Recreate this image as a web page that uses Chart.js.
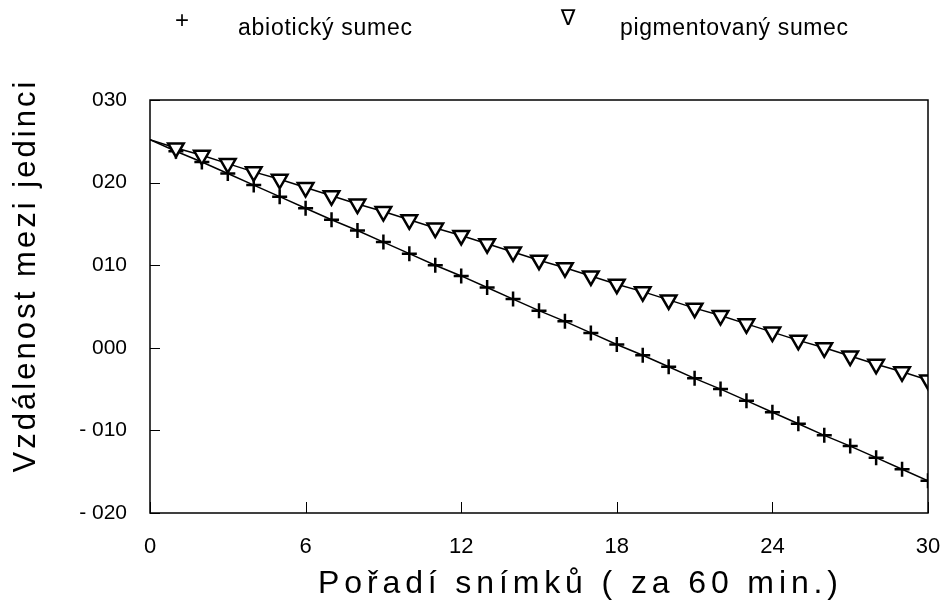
<!DOCTYPE html>
<html>
<head>
<meta charset="utf-8">
<script src="https://cdn.jsdelivr.net/npm/chart.js@4"></script>
<style>
  html, body { margin: 0; padding: 0; background: #fff; }
  #wrap { width: 943px; height: 610px; position: relative; }
</style>
</head>
<body>
<div id="wrap"><canvas id="chart"></canvas></div>
<script>
// snímek (frame index) 0..30
const frames = [0, 1, 2, 3, 4, 5, 6, 7, 8, 9, 10, 11, 12, 13, 14, 15, 16, 17, 18, 19, 20, 21, 22, 23, 24, 25, 26, 27, 28, 29, 30];

const abioticValues = [0.252, 0.238, 0.225, 0.211, 0.197, 0.183, 0.169, 0.155, 0.142, 0.128, 0.114,
  0.100, 0.087, 0.073, 0.059, 0.045, 0.032, 0.018, 0.004, -0.009, -0.023,
  -0.037, -0.050, -0.064, -0.078, -0.092, -0.106, -0.119, -0.133, -0.147, -0.161];

const pigmentValues = [0.252, 0.242, 0.233, 0.223, 0.213, 0.204, 0.194, 0.184, 0.174, 0.165, 0.155,
  0.145, 0.136, 0.126, 0.116, 0.106, 0.097, 0.087, 0.077, 0.068, 0.058,
  0.048, 0.039, 0.029, 0.019, 0.009, 0.000, -0.010, -0.020, -0.029, -0.039];

const seriesNames = ["abiotický sumec", "pigmentovaný sumec"];
const xTicks = [0, 6, 12, 18, 24, 30];
const yTicks = [-0.2, -0.1, 0, 0.1, 0.2, 0.3];
const yTickLabels = ["- 020", "- 010", "000", "010", "020", "030"];
const xTitle = "Pořadí snímků ( za 60 min.)";
const yTitle = "Vzdálenost mezi jedinci";

const toPoints = (vals) => frames.map((f, i) => ({ x: f, y: vals[i] }));
const hideFirst = (r) => (ctx) => (ctx.dataIndex === 0 ? 0 : r);

// draw text spread out to a given width
function spreadText(ctx, text, x, y, width, align) {
  ctx.letterSpacing = "0px";
  const w = ctx.measureText(text).width;
  const sp = Math.max(0, (width - w) / (text.length - 1));
  ctx.letterSpacing = sp + "px";
  ctx.textAlign = align;
  ctx.fillText(text, align === "center" ? x + sp / 2 : x, y);
  ctx.letterSpacing = "0px";
}

const framePlugin = {
  id: "frame",
  afterDraw(chart) {
    const { ctx, chartArea: a, scales } = chart;
    ctx.save();
    ctx.strokeStyle = "#000";
    ctx.lineWidth = 1.5;
    ctx.strokeRect(a.left, a.top, a.right - a.left, a.bottom - a.top);

    // inward tick marks
    ctx.lineWidth = 1;
    ctx.beginPath();
    yTicks.forEach((v) => {
      const py = Math.round(scales.y.getPixelForValue(v)) + 0.5;
      ctx.moveTo(a.left, py);
      ctx.lineTo(a.left + 10, py);
    });
    xTicks.forEach((v) => {
      const px = Math.round(scales.x.getPixelForValue(v)) + 0.5;
      ctx.moveTo(px, a.bottom);
      ctx.lineTo(px, a.bottom - 11);
    });
    ctx.stroke();

    ctx.fillStyle = "#000";
    ctx.textBaseline = "middle";

    // axis titles
    ctx.font = "32px 'Liberation Sans Narrow', 'Liberation Sans', Arial, sans-serif";
    spreadText(ctx, xTitle, 578, 584, 520, "center");

    ctx.save();
    ctx.translate(26, 277);
    ctx.rotate(-Math.PI / 2);
    ctx.font = "31px 'Liberation Sans', Arial, sans-serif";
    spreadText(ctx, yTitle, 0, 0, 391, "center");
    ctx.restore();

    // legend
    ctx.font = "24px 'Liberation Sans', Arial, sans-serif";
    ctx.textAlign = "center";
    ctx.fillText("+", 182, 21);
    ctx.font = "22px 'DejaVu Sans', sans-serif";
    ctx.fillText("∇", 568, 19);
    ctx.font = "23px 'Liberation Sans Narrow', 'Liberation Sans', Arial, sans-serif";
    spreadText(ctx, seriesNames[0], 238, 29, 174, "left");
    spreadText(ctx, seriesNames[1], 620, 29, 228, "left");
    ctx.restore();
  }
};

new Chart(document.getElementById("chart"), {
  type: "line",
  data: {
    datasets: [
      {
        label: seriesNames[0],
        data: toPoints(abioticValues),
        borderColor: "#000",
        borderWidth: 1.5,
        pointStyle: "cross",
        pointRadius: hideFirst(7.5),
        pointBorderColor: "#000",
        pointBorderWidth: 2.5,
        tension: 0,
        order: 2
      },
      {
        label: seriesNames[1],
        data: toPoints(pigmentValues),
        borderColor: "#000",
        borderWidth: 1.5,
        pointStyle: "triangle",
        rotation: 180,
        pointRadius: hideFirst(9),
        pointBackgroundColor: "#fff",
        pointBorderColor: "#000",
        pointBorderWidth: 2.5,
        tension: 0,
        order: 1
      }
    ]
  },
  options: {
    responsive: true,
    maintainAspectRatio: false,
    animation: false,
    layout: { padding: { top: 100, right: 15, left: 0, bottom: 0 } },
    plugins: { legend: { display: false }, tooltip: { enabled: false } },
    scales: {
      x: {
        type: "linear",
        min: 0,
        max: 30,
        afterFit: (s) => { s.height = 97; s.paddingLeft = 0; s.paddingRight = 0; },
        afterBuildTicks: (s) => { s.ticks = xTicks.map((v) => ({ value: v })); },
        grid: { display: false, drawTicks: false },
        border: { display: false },
        ticks: {
          padding: 21,
          color: "#000",
          maxRotation: 0,
          font: { family: "'Liberation Sans Narrow', 'Liberation Sans', Arial", size: 22 }
        }
      },
      y: {
        min: -0.2,
        max: 0.3,
        afterFit: (s) => { s.width = 150; s.paddingTop = 0; s.paddingBottom = 0; },
        afterBuildTicks: (s) => { s.ticks = yTicks.map((v) => ({ value: v })); },
        grid: { display: false, drawTicks: false },
        border: { display: false },
        ticks: {
          padding: 23,
          color: "#000",
          font: { family: "'Liberation Sans', Arial", size: 21 },
          callback: (v) => yTickLabels[yTicks.findIndex((t) => Math.abs(t - v) < 1e-6)]
        }
      }
    }
  },
  plugins: [framePlugin]
});
</script>
</body>
</html>
